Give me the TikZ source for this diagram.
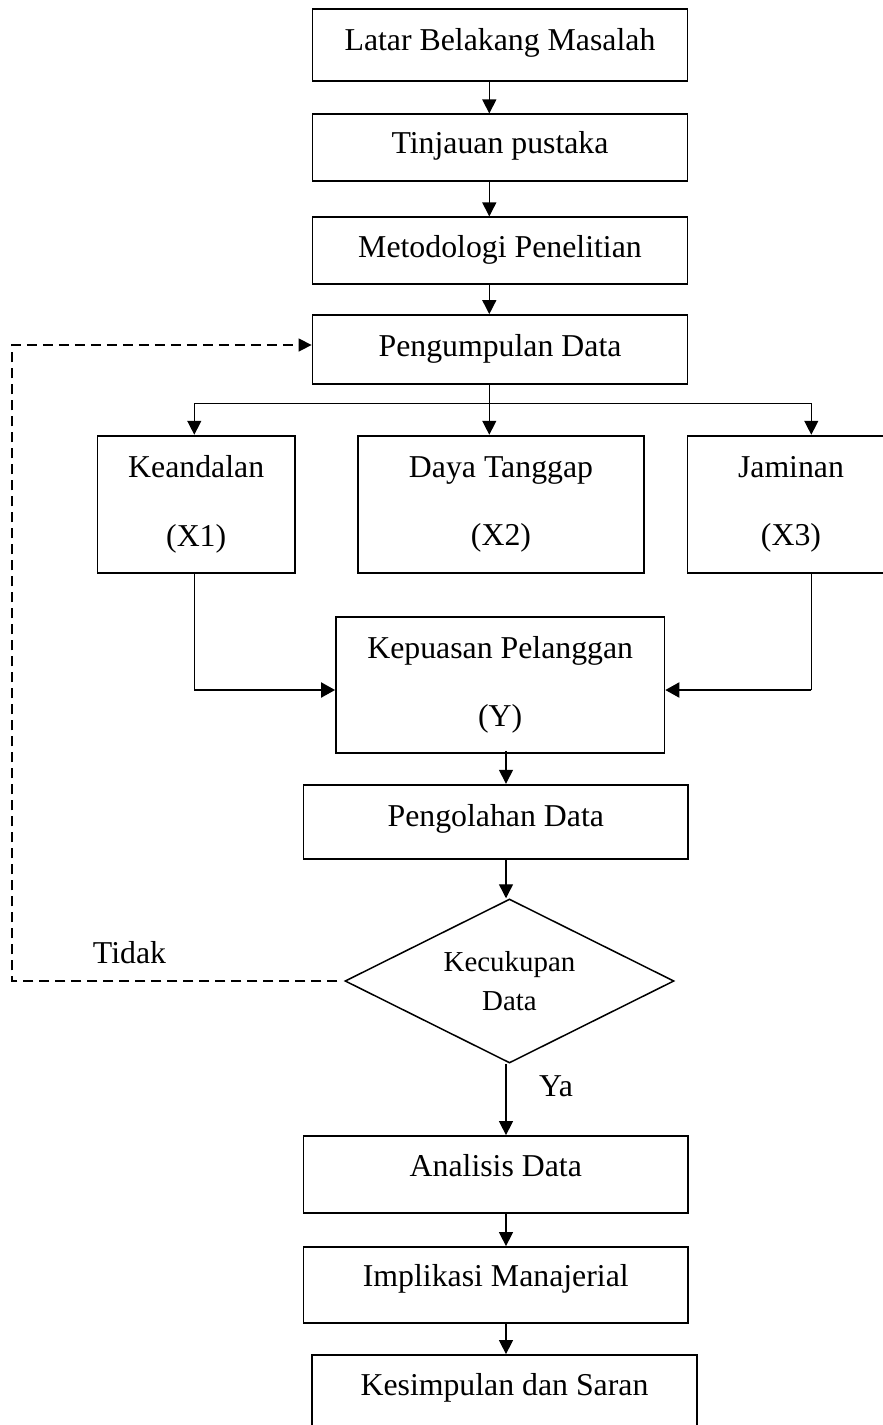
\documentclass[tikz,border=0pt]{standalone}
\usepackage{fontspec}
\setmainfont{Liberation Serif}
\usetikzlibrary{arrows.meta,shapes.geometric}
\begin{document}
\begin{tikzpicture}[x=1pt,y=-1pt,
  box/.style={draw, line width=1.8pt, rectangle, inner sep=0pt,
    font=\fontsize{31.8}{38}\selectfont, text height=21pt, text depth=#1},
  box/.default=8pt,
  tbox/.style={draw, line width=1.8pt, rectangle, inner sep=0pt, align=center,
    font=\fontsize{31.8}{68.3}\selectfont},
  dec/.style={draw, line width=1.5pt, diamond, aspect=2, inner sep=0pt, align=center,
    font=\fontsize{28.9}{38.3}\selectfont},
  lbl/.style={anchor=base, inner sep=0pt, font=\fontsize{31.8}{38}\selectfont},
  ln/.style={line width=1.4pt},
  arr/.style={line width=1.4pt, -{Triangle[length=14pt,width=14pt]}},
  harr/.style={line width=2pt, -{Triangle[length=14pt,width=15pt]}},
  dsh/.style={line width=1.5pt, dash pattern=on 10pt off 6pt, -{Triangle[length=13pt,width=13pt]}}]
\useasboundingbox (0,0) rectangle (883,1425);
\clip (0,0) rectangle (883,1425);

% boxes
\node[box=11pt, minimum width=375pt, minimum height=72pt] (b1) at (500,45.3) {Latar Belakang Masalah};
\node[box=9pt, minimum width=375pt, minimum height=66.7pt] (b2) at (500,147.7) {Tinjauan pustaka};
\node[box=7pt, minimum width=375pt, minimum height=67pt] (b3) at (500,250.8) {Metodologi Penelitian};
\node[box=8pt, minimum width=375pt, minimum height=69pt] (b4) at (500,349.5) {Pengumpulan Data};

\node[tbox, minimum width=197.6pt, minimum height=137.3pt] (x1) at (196.2,504.3) {Keandalan\\(X1)};
\node[tbox, minimum width=286pt, minimum height=137.3pt] (x2) at (501,504.3) {Daya Tanggap\\(X2)};
\node[tbox, minimum width=207pt, minimum height=137.3pt] (x3) at (791,504.3) {Jaminan\\(X3)};

\node[tbox, minimum width=328.4pt, minimum height=136pt] (kp) at (500.2,685) {Kepuasan Pelanggan\\(Y)};

\node[box=12.4pt, minimum width=384.8pt, minimum height=74pt] (po) at (495.8,821.7) {Pengolahan Data};
\node[dec, minimum width=329pt, minimum height=164pt] (dm) at (509.5,981) {Kecukupan\\Data};
\node[box=18pt, minimum width=384.8pt, minimum height=77pt] (an) at (495.8,1174.5) {Analisis Data};
\node[box=17.6pt, minimum width=384.8pt, minimum height=76pt] (im) at (495.8,1285) {Implikasi Manajerial};
\node[box=16pt, minimum width=385pt, minimum height=75pt] (ks) at (504.5,1392.5) {Kesimpulan dan Saran};

% labels
\node[lbl] (tidak) at (129.5,963.3) {Tidak};
\node[lbl] (ya) at (556,1096.7) {Ya};

% helper coordinates
\coordinate (cA) at (489.3,0);
\coordinate (cB) at (506,0);
\coordinate (x1c) at (194.3,0);
\coordinate (x3c) at (811.3,0);
\coordinate (br) at (0,403.3);
\coordinate (jn) at (0,690);
\coordinate (dl) at (12,0);
\coordinate (fb) at (0,345);

% connectors
\draw[arr] (b1.south -| cA) -- (b2.north -| cA);
\draw[arr] (b2.south -| cA) -- (b3.north -| cA);
\draw[arr] (b3.south -| cA) -- (b4.north -| cA);
\draw[ln] (b4.south -| cA) -- (br -| cA);
\draw[ln] (br -| x1c) -- (br -| x3c);
\draw[arr] (br -| x1c) -- (x1.north -| x1c);
\draw[arr] (br -| cA) -- (x2.north -| cA);
\draw[arr] (br -| x3c) -- (x3.north -| x3c);
\draw[ln] (x1.south -| x1c) -- (jn -| x1c);
\draw[harr] (jn -| x1c) -- (jn -| kp.west);
\draw[ln] (x3.south -| x3c) -- (jn -| x3c);
\draw[harr] (jn -| x3c) -- (jn -| kp.east);
\draw[arr] ([yshift=3pt]kp.south -| cB) -- (po.north -| cB);
\draw[arr] (po.south -| cB) -- (dm.north -| cB);
\draw[arr] (dm.south -| cB) -- (an.north -| cB);
\draw[arr] (an.south -| cB) -- (im.north -| cB);
\draw[arr] (im.south -| cB) -- (ks.north -| cB);
\draw[dsh] ([xshift=-7pt]dm.west) -- (dl |- dm.west) -- (dl |- fb) -- (b4.west |- fb);
\end{tikzpicture}
\end{document}
